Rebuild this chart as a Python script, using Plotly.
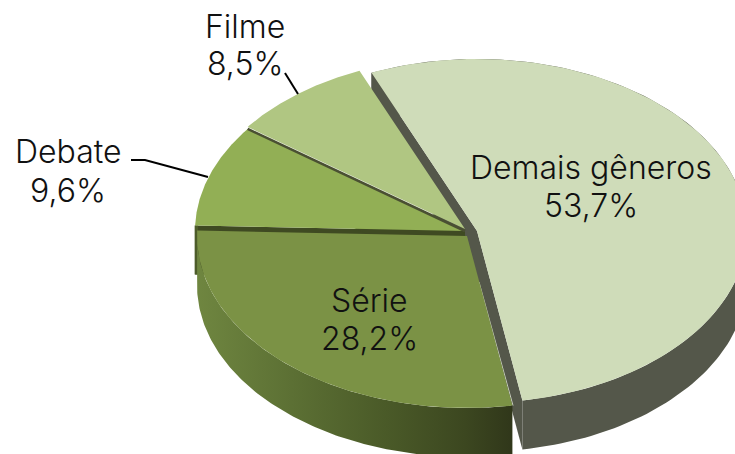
import numpy as np
import plotly.graph_objects as go

# Data
categories = ["Demais gêneros", "Série", "Debate", "Filme"]
values = [53.7, 28.2, 9.6, 8.5]

# Style / geometry
top_colors = ["#cfdcb9", "#7b9245", "#92af55", "#b0c682"]
side_colors = ["#54574a", "#333a18", "#3f4a22", "#4a5032"]
centers = [(477, 231), (467, 236), (465, 231), (465, 229)]
label_pos = [(591, 167, 205), (369, 300, 338), (68, 151, 190), (245, 26, 63)]
RX, RY, DEPTH = 270, 172, 49
START = 337.0
FONT = "Inter"
SIZE = 32

fracs = np.array(values) / sum(values) * 360
starts = START + np.concatenate(([0], np.cumsum(fracs)[:-1]))
ends = starts + fracs


def arc(i, dy=0, a=None, b=None):
    a = starts[i] if a is None else a
    b = ends[i] if b is None else b
    t = np.radians(np.linspace(a, b, 140))
    cx, cy = centers[i]
    return cx + RX * np.sin(t), cy - RY * np.cos(t) + dy


def poly(x, y, color=None, grad=None):
    kw = dict(x=list(x) + [x[0]], y=list(y) + [y[0]], mode="lines", fill="toself",
              line=dict(width=0), hoverinfo="skip", showlegend=False)
    if grad:
        kw["fillgradient"] = dict(type="horizontal", colorscale=grad)
        kw["fillcolor"] = "rgba(0,0,0,0)"
    else:
        kw["fillcolor"] = color
    return go.Scatter(**kw)


def wedge(i, dy=0):
    x, y = arc(i, dy)
    cx, cy = centers[i]
    return np.r_[cx, x], np.r_[cy + dy, y]


def side(i, grad=None):
    x, y = arc(i)
    xb, yb = arc(i, DEPTH)
    return [poly(np.r_[x, xb[::-1]], np.r_[y, yb[::-1]], side_colors[i], grad)]


def inner(i):
    cx, cy = centers[i]
    out = []
    x, y = arc(i)
    for px, py in ((x[0], y[0]), (x[-1], y[-1])):
        out.append(poly([cx, px, px, cx], [cy, py, py + DEPTH, cy + DEPTH], side_colors[i]))
    return out


fig = go.Figure()

# Demais gêneros (exploded, drawn first)
for t in side(0) + inner(0):
    fig.add_trace(t)
fig.add_trace(poly(*wedge(0), top_colors[0]))

# hairline beside Série
sx, sy = arc(1)
fig.add_trace(go.Scatter(x=[centers[1][0] + 12, sx[0] + 0.6], y=[centers[1][1] + 46, sy[0]], mode="lines",
                         line=dict(color="#e8eee0", width=0.8), hoverinfo="skip", showlegend=False))

# Debate wall, visible as the dark band and left strip
for t in inner(2):
    fig.add_trace(t)
dx, dy_ = arc(2, 0, starts[2], starts[2] + 0.1)
fig.add_trace(poly([dx[0] - 0.5, dx[0] + 3, dx[0] + 3, dx[0] - 0.5],
                   [dy_[0], dy_[0], dy_[0] + DEPTH, dy_[0] + DEPTH], "#4d5c2a"))

# Série rim with gradient
grad = [[0, "#6f8640"], [0.3, "#5c7034"], [0.6, "#4a5a28"], [0.85, "#3c4720"], [1, "#30371a"]]
for t in side(1, grad):
    fig.add_trace(t)
fig.add_trace(poly(*wedge(1), top_colors[1]))

# Filme and Debate top faces
fig.add_trace(poly(*wedge(3), top_colors[3]))
fig.add_trace(poly(*wedge(2), top_colors[2]))

# seam between Debate and Filme
ex, ey = arc(2)
fig.add_trace(go.Scatter(x=[centers[2][0], ex[-1]], y=[centers[2][1], ey[-1]], mode="lines",
                         line=dict(color=side_colors[3], width=2.6), hoverinfo="skip", showlegend=False))

# Leader lines
fig.add_trace(go.Scatter(x=[285, 298], y=[73, 94], mode="lines", line=dict(color="black", width=2),
                         hoverinfo="skip", showlegend=False))
fig.add_trace(go.Scatter(x=[131, 145, 208], y=[160, 160, 177], mode="lines", line=dict(color="black", width=2),
                         hoverinfo="skip", showlegend=False))

# Labels
for cat, val, (lx, y1, y2) in zip(categories, values, label_pos):
    for txt, yy in ((cat, y1), (f"{val:.1f}".replace(".", ",") + "%", y2)):
        fig.add_annotation(x=lx, y=yy, text=txt, showarrow=False, xref="x", yref="y",
                           font=dict(family=FONT, size=SIZE, color="#111111", weight=300),
                           xanchor="center", yanchor="middle")

fig.update_layout(
    width=735, height=454, margin=dict(l=0, r=0, t=0, b=0),
    paper_bgcolor="white", plot_bgcolor="white", showlegend=False,
    xaxis=dict(range=[0, 735], visible=False, fixedrange=True),
    yaxis=dict(range=[454, 0], visible=False, fixedrange=True),
)
fig.write_html("out.html", config=dict(displayModeBar=False),
               post_script="document.body.style.margin='0';")
